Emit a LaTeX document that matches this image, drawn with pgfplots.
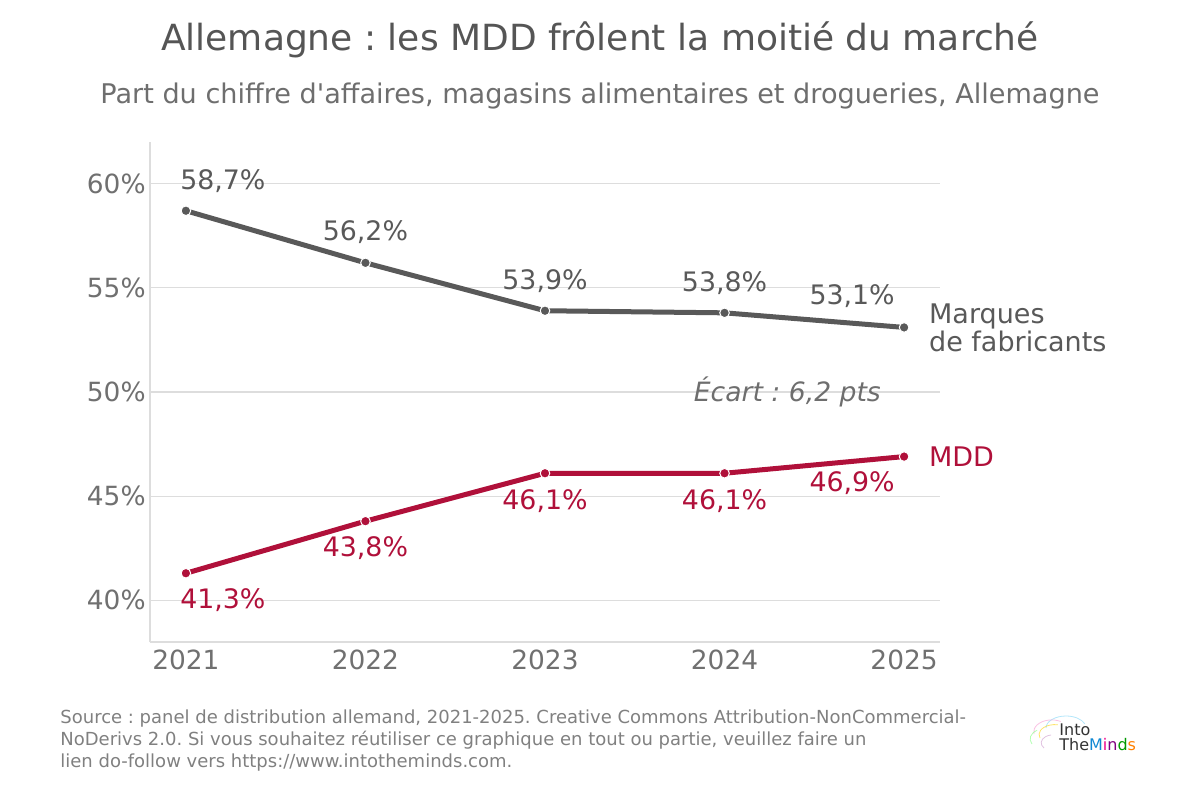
\documentclass[border=0pt]{standalone}
\usepackage{pgfplots}
\pgfplotsset{compat=1.18}
\usepackage{pgfplotstable}
\usepackage{fontspec}
\setmainfont{DejaVu Sans}[Ligatures=TeXOff]
\frenchspacing
\definecolor{ggray}{HTML}{595959}
\definecolor{gred}{HTML}{B0103A}
\definecolor{tickc}{HTML}{707070}
\definecolor{titc}{HTML}{555555}
\definecolor{subc}{HTML}{6E6E6E}
\definecolor{gridc}{HTML}{DDDDDD}
\definecolor{srcc}{HTML}{808080}

\pgfplotstableread{
x y dx dy
2021 58.7 18.5 15
2022 56.2 0 15.5
2023 53.9 0 15
2024 53.8 0 15
2025 53.1 -26 15.5
}\marques
\pgfplotstableread{
x y dx dy
2021 41.3 18.5 -13.5
2022 43.8 0 -13.5
2023 46.1 0 -14
2024 46.1 0 -14
2025 46.9 -26 -13.5
}\mdd

\begin{document}
\begin{tikzpicture}[x=1pt,y=1pt]
\useasboundingbox (0,0) rectangle (600,394);
\node[font=\fontsize{18}{20}\selectfont, text=titc] at (300,374) {Allemagne : les MDD frôlent la moitié du marché};
\node[font=\fontsize{13.55}{15}\selectfont, text=subc] at (300,346) {Part du chiffre d'affaires, magasins alimentaires et drogueries, Allemagne};
\begin{axis}[
  at={(75pt,73pt)}, anchor=south west,
  scale only axis, width=395pt, height=250pt,
  xmin=2020.8, xmax=2025.2, ymin=38, ymax=62,
  axis x line*=bottom, axis y line*=left,
  axis line style={draw=gridc, line width=0.6pt, -},
  xtick={2021,2022,2023,2024,2025},
  xticklabels={2021,2022,2023,2024,2025},
  ytick={40,45,50,55,60},
  yticklabel={\pgfmathprintnumber{\tick}\%},
  /pgf/number format/assume math mode=true,
  major tick length=0pt,
  ymajorgrids, grid style={draw=gridc, line width=0.6pt},
  tick label style={font=\fontsize{13.2}{15}\selectfont, text=tickc},
  yticklabel style={inner sep=0pt, xshift=-2pt},
  xticklabel style={inner sep=0pt, yshift=-4pt},
  clip=false,
  visualization depends on={\thisrow{dx} \as \labdx},
  visualization depends on={\thisrow{dy} \as \labdy},
  nodes near coords={\pgfmathprintnumber[fixed, fixed zerofill, precision=1, use comma]{\pgfplotspointmeta}\%},
  point meta=y,
  nodes near coords style={anchor=center, xshift=\labdx pt, yshift=\labdy pt, font=\fontsize{13.4}{15}\selectfont, /pgf/number format/assume math mode=true},
]
\addplot[ggray, line width=2.5pt, mark=*, mark size=2.4pt, mark options={fill=ggray, draw=white, line width=0.5pt}, every node near coord/.append style={text=ggray}] table[x=x,y=y] {\marques};
\addplot[gred, line width=2.5pt, mark=*, mark size=2.4pt, mark options={fill=gred, draw=white, line width=0.5pt}, every node near coord/.append style={text=gred}] table[x=x,y=y] {\mdd};
\node[anchor=west, align=left, text=ggray, font=\fontsize{13.5}{14}\selectfont] at (axis cs:2025,53.1) [xshift=9pt] {Marques\\de fabricants};
\node[anchor=west, text=gred, font=\fontsize{13.5}{14}\selectfont] at (axis cs:2025,46.9) [xshift=9pt] {MDD};
\node[text=subc, font=\fontsize{13.3}{14}\selectfont\itshape] at (axis cs:2024.35,50.0) {Écart : 6,2 pts};
\end{axis}
\node[anchor=north west, align=left, text=srcc, font=\fontsize{9}{11}\selectfont, inner sep=0pt] at (30,39.5) {Source : panel de distribution allemand, 2021-2025. Creative Commons Attribution-NonCommercial-\\NoDerivs 2.0. Si vous souhaitez réutiliser ce graphique en tout ou partie, veuillez faire un\\lien do-follow vers https://www.intotheminds.com.};
% logo
\begin{scope}[line width=0.4pt, opacity=0.6]
\draw[cyan!50] (523,30) arc (180:20:10pt and 6pt);
\draw[magenta!40] (517,27) arc (190:60:9pt and 6pt);
\draw[yellow!70!orange] (520,25) arc (200:80:8pt and 5pt);
\draw[green!50] (516,22) arc (210:120:7pt and 5pt);
\draw[violet!40] (522,20) arc (220:100:6pt and 4pt);
\end{scope}
\node[anchor=west, inner sep=0pt, font=\fontsize{8}{9}\selectfont, text=black!80] at (529.5,29) {Into};
\node[anchor=west, inner sep=0pt, font=\fontsize{8}{9}\selectfont] at (529.5,21.5) {\textcolor{black!80}{The}\textcolor{cyan!70!blue}{M}\textcolor{magenta}{i}\textcolor{violet}{n}\textcolor{green!60!black}{d}\textcolor{orange}{s}};
\end{tikzpicture}
\end{document}
